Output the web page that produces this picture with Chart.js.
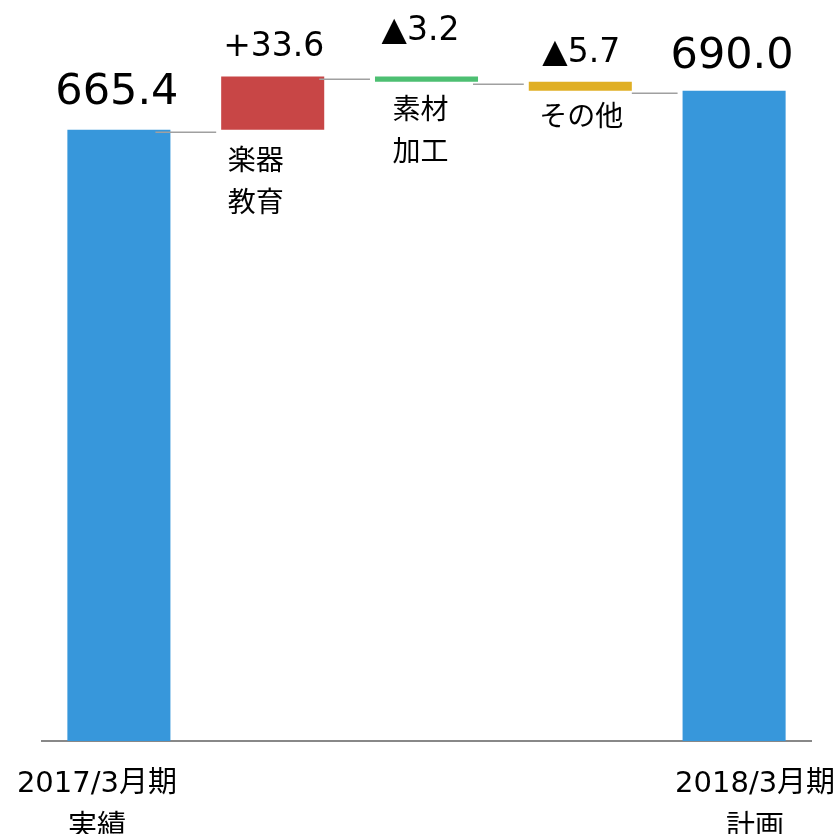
<!DOCTYPE html>
<html>
<head>
<meta charset="utf-8">
<script src="https://cdn.jsdelivr.net/npm/chart.js@4.4.1/dist/chart.umd.min.js"></script>
<style>
  html, body { margin: 0; padding: 0; background: #fff; }
  canvas { display: block; }
</style>
</head>
<body>
<canvas id="c" width="840" height="834"></canvas>
<script>
// ---- data ----
const categories = ["2017/3月期 実績", "楽器教育", "素材加工", "その他", "2018/3月期 計画"];
const values = [665.4, 33.6, -3.2, -5.7, 690.0];
const kinds = ["total", "delta", "delta", "delta", "total"];
const valueLabels = ["665.4", "+33.6", "▲3.2", "▲5.7", "690.0"];
const barLabels = [[], ["楽器", "教育"], ["素材", "加工"], ["その他"], []];
const axisLabels = [["2017/3月期", "実績"], [], [], [], ["2018/3月期", "計画"]];
const yMin = 280;
const yMax = 700;

// ---- build waterfall data ----
const barData = [];
const levels = [];
let running = 0;
values.forEach((v, i) => {
  if (kinds[i] === "total") {
    barData.push(v);
    running = v;
  } else {
    barData.push([running, running + v]);
    running = running + v;
  }
  levels.push(running);
});

const colors = ["#3797db", "#c84646", "#4dbf72", "#e0af24", "#3797db"];

const NUM_FONT = "'DejaVu Sans', 'Noto Sans CJK JP', sans-serif";

const waterfallPlugin = {
  id: "waterfall",
  afterDatasetsDraw(chart, args, opts) {
    const ctx = chart.ctx;
    const meta = chart.getDatasetMeta(0);
    const y = chart.scales.y;
    const bars = meta.data;
    // connectors
    ctx.save();
    ctx.strokeStyle = "#a0a0a0";
    ctx.lineWidth = 1.5;
    for (let i = 0; i < bars.length - 1; i++) {
      const b = bars[i], n = bars[i + 1];
      const py = Math.round(y.getPixelForValue(levels[i]) + 2.5) + 0.25;
      const x0 = b.x + b.width / 2 - opts.connStart[i];
      const x1 = n.x - n.width / 2 - 5;
      ctx.beginPath();
      ctx.moveTo(x0, py);
      ctx.lineTo(x1, py);
      ctx.stroke();
    }
    ctx.restore();

    // value labels
    ctx.save();
    ctx.fillStyle = "#000";
    ctx.textAlign = "center";
    ctx.textBaseline = "alphabetic";
    bars.forEach((b, i) => {
      const top = Math.min(b.y, b.base);
      ctx.font = opts.valueSize[i] + "px " + NUM_FONT;
      ctx.fillText(valueLabels[i], b.x + opts.valueDx[i], top - opts.valueGap[i]);
    });

    // category labels under floating bars
    ctx.font = "28px 'Noto Sans CJK JP', sans-serif";
    ctx.textBaseline = "middle";
    bars.forEach((b, i) => {
      const bottom = Math.max(b.y, b.base);
      barLabels[i].forEach((t, k) => {
        ctx.fillText(t, b.x + opts.catDx[i], bottom + opts.catDy[i] + k * 42);
      });
    });

    // axis labels
    ctx.font = "29px " + NUM_FONT;
    ctx.textBaseline = "alphabetic";
    const base = chart.chartArea.bottom;
    bars.forEach((b, i) => {
      axisLabels[i].forEach((t, k) => {
        ctx.fillText(t, b.x + opts.axisDx[i], base + 51 + k * 43.5);
      });
    });
    ctx.restore();
  }
};

new Chart(document.getElementById("c"), {
  type: "bar",
  data: {
    labels: categories,
    datasets: [{
      data: barData,
      backgroundColor: colors,
      borderWidth: 0,
      categoryPercentage: 1,
      barPercentage: 0.67
    }]
  },
  options: {
    responsive: false,
    animation: false,
    devicePixelRatio: 1,
    layout: { padding: { left: 42, right: 29, top: 75, bottom: 93 } },
    plugins: {
      legend: { display: false },
      tooltip: { enabled: false },
      waterfall: {
        connStart: [15, 5, 5, 0],
        valueSize: [43, 33, 33, 33, 43],
        valueGap: [26, 21, 37, 20, 23],
        valueDx: [-2, 1, -6, 1, -2],
        catDx: [0, -17, -6, 1, 0],
        catDy: [0, 29.5, 27, 25, 0],
        axisDx: [-22, 0, 0, 0, 21]
      }
    },
    scales: {
      x: {
        grid: { display: false, drawTicks: false },
        ticks: { display: false },
        border: { display: true, color: "#888888", width: 2 }
      },
      y: {
        display: false,
        min: yMin,
        max: yMax
      }
    }
  },
  plugins: [waterfallPlugin]
});
</script>
</body>
</html>
